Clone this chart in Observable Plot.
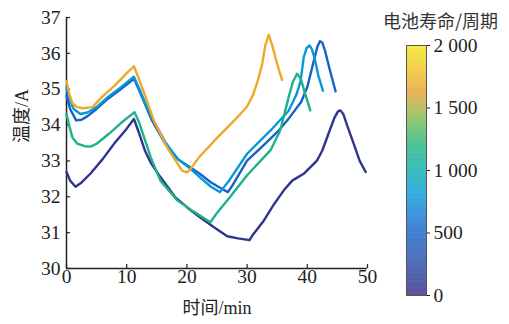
<!DOCTYPE html>
<html><head><meta charset="utf-8">
<script src="https://cdn.jsdelivr.net/npm/d3@7"></script>
<script src="https://cdn.jsdelivr.net/npm/@observablehq/plot@0.6"></script>
<style>
body{margin:0;background:#fff}
#wrap{position:relative;width:509px;height:324px;overflow:hidden}
#wrap svg{position:absolute;top:0}
</style></head><body><div id="wrap"></div>
<script>
// ---- data ----
const seriesIds = ["navy", "blue", "lightblue", "green", "orange"];
const seriesCycles = [80, 480, 800, 1150, 1680];

const navyTime = [0,0.6,1.5,2.5,4,6,8,10,11.2,12,13,14,15.6,18,20,22,24.5,26.7,28.5,30.4,31,32.8,34.5,36.1,37.5,39.4,41.6,42.5,43.5,44.5,45.1,45.5,46,46.6,47.7,48.7,49.7];
const navyTemp = [32.69,32.45,32.28,32.4,32.65,33.05,33.5,33.9,34.17,33.8,33.3,32.95,32.55,32.0,31.71,31.45,31.15,30.9,30.84,30.79,30.95,31.34,31.8,32.18,32.45,32.64,33.01,33.29,33.75,34.2,34.38,34.41,34.3,34.0,33.48,33.0,32.69];

const blueTime = [0,0.6,1.6,2.5,3.5,5,7,9,11.2,12,13,14.2,16.5,18.5,20.6,22.3,24,25.5,26.8,27.5,30,32.5,35,37,39,40,41.1,41.7,42.1,42.5,42.9,43.8,44.7];
const blueTemp = [34.82,34.45,34.13,34.15,34.25,34.45,34.75,35.0,35.29,35.0,34.6,34.13,33.45,33.05,32.82,32.62,32.4,32.25,32.13,32.3,33.01,33.4,33.8,34.2,34.65,35.06,35.8,36.2,36.34,36.3,36.1,35.5,34.94];

const lightTime = [0,0.5,1.2,2.3,3.5,5,7,9,11.2,12,13,14.2,16.5,18.5,20.6,22.3,24,25.5,27,30,33.9,36.9,38.2,38.9,39.4,39.9,40.4,40.8,41.3,41.8,42.6];
const lightTemp = [35.04,34.7,34.45,34.31,34.35,34.5,34.8,35.05,35.35,35.05,34.65,34.2,33.5,33.05,32.78,32.52,32.28,32.13,32.45,33.2,33.85,34.4,34.85,35.24,35.89,36.15,36.22,36.1,35.8,35.4,34.96];

const greenTime = [0,0.5,1,1.8,3,4,5,7,9,11.3,12,13,14,15.6,18.4,21,23.9,25,27.2,30,33.9,35.5,36.9,37.6,38.3,38.9,39.6,40.5];
const greenTemp = [34.31,33.95,33.65,33.48,33.41,33.4,33.48,33.75,34.05,34.36,34.1,33.6,33.1,32.45,31.9,31.6,31.29,31.55,32.0,32.6,33.3,33.85,34.78,35.2,35.43,35.3,34.9,34.41];

const orangeTime = [0,0.5,1,1.8,2.6,4.3,6,8,10,11.2,12,13,14.5,16.7,19.2,20,20.5,22,24.5,28.4,30,31,31.8,32.5,33.0,33.6,34.2,35,35.8];
const orangeTemp = [35.22,34.85,34.6,34.5,34.47,34.5,34.8,35.1,35.45,35.64,35.3,34.85,34.13,33.38,32.73,32.68,32.75,33.1,33.55,34.22,34.52,34.85,35.25,35.7,36.2,36.52,36.2,35.7,35.26];

const xTicks = [0, 10, 20, 30, 40, 50];
const yTicks = [30, 31, 32, 33, 34, 35, 36, 37];
const cbTicks = [0, 500, 1000, 1500, 2000];
const cbTickLabels = ["0", "500", "1 000", "1 500", "2 000"];

// colour map (parula-like with orange band)
const cmapValues = [0, 300, 550, 800, 1000, 1200, 1350, 1480, 1640, 1780, 2000];
const cmapColors = ["#352a87","#2450ae","#1468cf","#0898d9","#0cadae","#22b47c","#5cba58","#a3b545","#eaa02c","#f0be24","#f1e61a"];

const xLabel = "时间/min";
const yLabel = "温度/A";
const cbTitle = "电池寿命/周期";

// ---- build rows ----
const timeArrays = [navyTime, blueTime, lightTime, greenTime, orangeTime];
const tempArrays = [navyTemp, blueTemp, lightTemp, greenTemp, orangeTemp];
const rows = [];
seriesIds.forEach((id, i) => {
  timeArrays[i].forEach((t, j) => rows.push({id, t, T: tempArrays[i][j], cycle: seriesCycles[i]}));
});

const colorScale = {type: "linear", domain: cmapValues, range: cmapColors};
const serif = "'Liberation Serif', 'Times New Roman', 'Noto Sans CJK SC', serif";

const main = Plot.plot({
  width: 509, height: 324,
  marginLeft: 66, marginRight: 142, marginTop: 17, marginBottom: 56,
  x: {domain: [0, 50]},
  y: {domain: [30, 37]},
  color: colorScale,
  style: {fontFamily: serif, fontSize: "19.5px", color: "#222", background: "transparent"},
  marks: [
    Plot.axisX({ticks: xTicks, tickSize: 0, tickPadding: 1, label: null, tickFormat: d => String(d)}),
    Plot.axisY({ticks: yTicks, tickSize: 0, tickPadding: 6, label: null, tickFormat: d => String(d)}),
    Plot.ruleX(xTicks, {y1: 30, y2: 30.11, stroke: "#222", strokeWidth: 1.2}),
    Plot.ruleY(yTicks, {x1: 0, x2: 0.66, stroke: "#222", strokeWidth: 1.2}),
    Plot.ruleX([0], {y1: 30, y2: 37, stroke: "#222", strokeWidth: 1.5}),
    Plot.ruleY([30], {x1: 0, x2: 50, stroke: "#222", strokeWidth: 1.5}),
    Plot.line(rows, {x: "t", y: "T", z: "id", stroke: "cycle", strokeWidth: 2.4, strokeLinejoin: "round"}),
    Plot.text([yLabel], {frameAnchor: "left", dx: -44, rotate: -90, fontSize: 18, fill: "#222"}),
    Plot.text([xLabel], {frameAnchor: "bottom", dy: 45, fontSize: 18, fill: "#222"})
  ]
});
main.style.left = "0px";

const cbSteps = d3.range(0, 2000, 5);
const cb = Plot.plot({
  width: 129, height: 324,
  marginLeft: 26, marginRight: 83, marginTop: 45, marginBottom: 29,
  x: {domain: [0, 1], axis: null},
  y: {domain: [0, 2000]},
  color: colorScale,
  style: {fontFamily: serif, fontSize: "19.5px", color: "#222", background: "transparent", overflow: "visible"},
  marks: [
    Plot.rect(cbSteps, {x1: 0, x2: 1, y1: d => d, y2: d => d + 5.5, fill: d => d + 2.5}),
    Plot.frame({stroke: "#555", strokeWidth: 1}),
    Plot.axisY({anchor: "right", ticks: cbTicks, tickSize: 3, tickPadding: 4, label: null,
      tickFormat: d => cbTickLabels[cbTicks.indexOf(d)]}),
    Plot.text([cbTitle], {frameAnchor: "top-left", dx: 34, dy: -30, textAnchor: "middle",
      fontFamily: "'Noto Sans CJK SC', sans-serif", fontSize: 18, fill: "#333"})
  ]
});
cb.style.left = "380px";

const wrap = document.getElementById("wrap");
wrap.appendChild(main);
wrap.appendChild(cb);
</script>
</body></html>
